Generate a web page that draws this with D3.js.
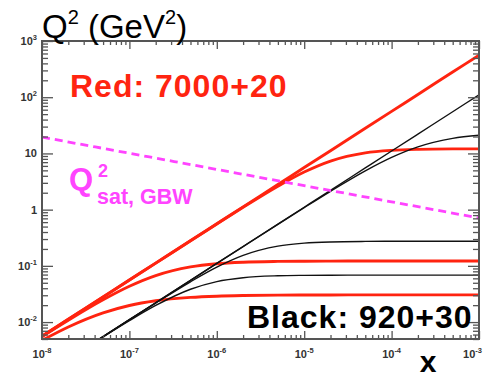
<!DOCTYPE html>
<html><head><meta charset="utf-8">
<script src="https://cdn.jsdelivr.net/npm/d3@7"></script>
<style>
html,body{margin:0;padding:0;background:#fff;}
svg{display:block;font-family:"Liberation Sans",Arial,Helvetica,sans-serif;}
</style>
</head><body>
<svg id="chart" width="483" height="377"></svg>
<script>
// Bjorken-x sampling points (1-2-5 per decade)
const xGrid = [1e-8, 2e-8, 5e-8, 1e-7, 2e-7, 5e-7, 1e-6, 2e-6, 5e-6, 1e-5, 2e-5, 5e-5, 1e-4, 2e-4, 5e-4, 1e-3];

// Red: 7000 + 20 GeV — kinematic limit and fixed electron-angle lines
const redLimit  = [0.0056, 0.0112, 0.028, 0.056, 0.112, 0.28, 0.56, 1.12, 2.8, 5.6, 11.2, 28, 56, 112, 280, 560];
const red10deg  = [0.0056, 0.0112, 0.028, 0.05599, 0.1119, 0.2793, 0.5563, 1.099, 2.61, 4.67, 7.32, 10.24, 11.35, 11.82, 12.03, 12.07];
const red1deg   = [0.005506, 0.01077, 0.02488, 0.0433, 0.06703, 0.09569, 0.1091, 0.1162, 0.1200, 0.1211, 0.1216, 0.1218, 0.1219, 0.1219, 0.1219, 0.1219];
const redHalf   = [0.004730, 0.008189, 0.01459, 0.01973, 0.02395, 0.02747, 0.02889, 0.02965, 0.03013, 0.0303, 0.03038, 0.03043, 0.03044, 0.03045, 0.03046, 0.03046];

// Black: 920 + 30 GeV
const blackLimit = [0.001104, 0.002208, 0.00552, 0.01104, 0.02208, 0.0552, 0.1104, 0.2208, 0.552, 1.104, 2.208, 5.52, 11.04, 22.08, 55.2, 110.4];
const black10deg = [0.001104, 0.002208, 0.00552, 0.01104, 0.02207, 0.05515, 0.11035, 0.2203, 0.5479, 1.085, 2.120, 4.888, 8.48, 13.05, 18.49, 21.0];
const black1deg  = [0.001104, 0.002207, 0.005510, 0.010981, 0.02175, 0.05211, 0.09486, 0.15368, 0.2245, 0.2536, 0.2665, 0.2722, 0.2735, 0.27395, 0.27414, 0.2742];
const blackHalf  = [0.0011025, 0.0021995, 0.005437, 0.010588, 0.019736, 0.038413, 0.05255, 0.0616, 0.06657, 0.0678, 0.06827, 0.06845, 0.0685, 0.0685, 0.0685, 0.0685];

// GBW saturation scale
const gbwX  = [1e-8, 1e-7, 1e-6, 1e-5, 1e-4, 1e-3];
const gbwQ2 = [19.54, 10.07, 5.189, 2.673, 1.377, 0.7097];

// Axis decade labels
const xDecades = [1e-8, 1e-7, 1e-6, 1e-5, 1e-4, 1e-3];
const xExponents = ["-8", "-7", "-6", "-5", "-4", "-3"];
const yDecades = [1e-2, 1e-1, 1, 10, 1e2, 1e3];
const yBase = ["10", "10", "1", "10", "10", "10"];
const yExponents = ["-2", "-1", "", "", "2", "3"];

const RED = "#ff2410", MAGENTA = "#ff44ff", AXIS = "#555", LABEL = "#333";
const svg = d3.select("#chart");
const frame = {left: 42, right: 479, top: 41, bottom: 339};

const x = d3.scaleLog().domain([1e-8, 1e-3]).range([frame.left, frame.right]);
const y = d3.scaleLog().domain([5e-3, 1e3]).range([frame.bottom, frame.top]);

const isDecade = v => Math.abs(Math.log10(v) - Math.round(Math.log10(v))) < 1e-6;
const xAll = x.ticks(), yAll = y.ticks();
const xMinor = xAll.filter(v => !isDecade(v)), xMajor = xAll.filter(isDecade);
const yMinor = yAll.filter(v => !isDecade(v)), yMajor = yAll.filter(isDecade);

// curves, clipped to the frame
svg.append("clipPath").attr("id", "plotClip").append("rect")
  .attr("x", frame.left).attr("y", frame.top)
  .attr("width", frame.right - frame.left).attr("height", frame.bottom - frame.top);
const plot = svg.append("g").attr("clip-path", "url(#plotClip)");

const line = d3.line().x(d => x(d[0])).y(d => y(d[1])).curve(d3.curveMonotoneX);
const pairs = arr => xGrid.map((xv, i) => [xv, arr[i]]);

[redLimit, red10deg, red1deg, redHalf].forEach(s => {
  plot.append("path").attr("d", line(pairs(s)))
    .attr("fill", "none").attr("stroke", RED).attr("stroke-width", 2.9);
});
[blackLimit, black10deg, black1deg, blackHalf].forEach(s => {
  plot.append("path").attr("d", line(pairs(s)))
    .attr("fill", "none").attr("stroke", "#111").attr("stroke-width", 1.4);
});
plot.append("path").attr("d", line(gbwX.map((xv, i) => [xv, gbwQ2[i]])))
  .attr("fill", "none").attr("stroke", MAGENTA).attr("stroke-width", 2.8)
  .attr("stroke-dasharray", "8,5");

// inward ticks on all four sides
function ticks(axisFn, scale, values, size, tx, ty) {
  const g = svg.append("g").attr("transform", `translate(${tx},${ty})`)
    .call(axisFn(scale).tickValues(values).tickSize(-size).tickFormat(""));
  g.select(".domain").remove();
  g.selectAll(".tick line").attr("stroke", AXIS).attr("stroke-width", 1.3);
}
ticks(d3.axisBottom, x, xMinor, 4, 0, frame.bottom);
ticks(d3.axisBottom, x, xMajor, 8, 0, frame.bottom);
ticks(d3.axisTop, x, xMinor, 4, 0, frame.top);
ticks(d3.axisTop, x, xMajor, 8, 0, frame.top);
ticks(d3.axisLeft, y, yMinor, 6, frame.left, 0);
ticks(d3.axisLeft, y, yMajor, 11, frame.left, 0);
ticks(d3.axisRight, y, yMinor, 6, frame.right, 0);
ticks(d3.axisRight, y, yMajor, 11, frame.right, 0);

svg.append("rect").attr("x", frame.left).attr("y", frame.top)
  .attr("width", frame.right - frame.left).attr("height", frame.bottom - frame.top)
  .attr("fill", "none").attr("stroke", AXIS).attr("stroke-width", 2);

// decade labels
xDecades.forEach((v, i) => {
  const last = i === xDecades.length - 1;
  const t = svg.append("text").attr("x", last ? 482 : x(v)).attr("y", 358)
    .attr("text-anchor", last ? "end" : "middle").attr("font-size", 11)
    .attr("font-weight", "bold").attr("fill", LABEL);
  t.append("tspan").text("10");
  t.append("tspan").attr("dy", -5).attr("font-size", 7.5).text(xExponents[i]);
});
yDecades.forEach((v, i) => {
  const t = svg.append("text").attr("x", 37).attr("y", y(v) + 4)
    .attr("text-anchor", "end").attr("font-size", 11)
    .attr("font-weight", "bold").attr("fill", LABEL);
  t.append("tspan").text(yBase[i]);
  if (yExponents[i]) t.append("tspan").attr("dy", -5).attr("font-size", 7.5).text(yExponents[i]);
});

// axis titles
const title = svg.append("text").attr("x", 42).attr("y", 38).attr("font-size", 33).attr("fill", "#000");
title.append("tspan").text("Q");
title.append("tspan").attr("dy", -14).attr("font-size", 20).text("2");
title.append("tspan").attr("dy", 14).text(" (GeV");
title.append("tspan").attr("dy", -14).attr("font-size", 20).text("2");
title.append("tspan").attr("dy", 14).text(")");

svg.append("text").attr("x", 428).attr("y", 372).attr("text-anchor", "middle")
  .attr("font-size", 30).attr("font-weight", "bold").attr("fill", "#000").text("x");

// legends
svg.append("text").attr("x", 70).attr("y", 97).attr("font-size", 32).attr("font-weight", "bold")
  .attr("letter-spacing", 1).attr("fill", RED).text("Red: 7000+20");
svg.append("text").attr("x", 247).attr("y", 328).attr("font-size", 32).attr("font-weight", "bold")
  .attr("letter-spacing", 1).attr("fill", "#000").text("Black: 920+30");

svg.append("text").attr("x", 69).attr("y", 190).attr("font-size", 31).attr("font-weight", "bold")
  .attr("fill", MAGENTA).text("Q");
svg.append("text").attr("x", 98).attr("y", 177).attr("font-size", 18).attr("font-weight", "bold")
  .attr("fill", MAGENTA).text("2");
svg.append("text").attr("x", 97).attr("y", 204).attr("font-size", 21.5).attr("font-weight", "bold")
  .attr("fill", MAGENTA).text("sat, GBW");
</script>
</body></html>
